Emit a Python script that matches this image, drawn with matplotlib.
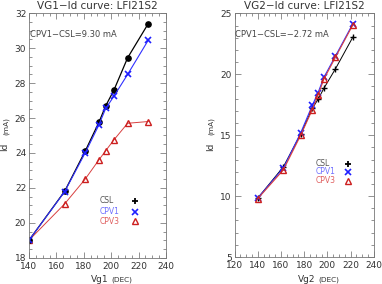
import matplotlib
matplotlib.use("Agg")
import matplotlib.pyplot as plt
from matplotlib.ticker import MultipleLocator

# ---- data ----
vg1 = [140, 166, 181, 191, 196, 202, 212, 227]
csl1 = [19.0, 21.8, 24.1, 25.75, 26.7, 27.6, 29.45, 31.4]
cpv1_1 = [19.0, 21.78, 24.0, 25.6, 26.55, 27.25, 28.5, 30.45]
cpv3_1 = [19.0, 21.08, 22.5, 23.6, 24.13, 24.75, 25.7, 25.8]

vg2 = [140, 162, 177, 187, 192, 197, 207, 222]
csl2 = [9.85, 12.4, 15.1, 17.2, 17.95, 18.85, 20.45, 23.05]
cpv1_2 = [9.85, 12.3, 15.2, 17.45, 18.5, 19.75, 21.5, 24.15]
cpv3_2 = [9.8, 12.15, 15.0, 17.1, 18.3, 19.6, 21.4, 24.05]

titles = ["VG1\u2212Id curve: LFI21S2", "VG2\u2212Id curve: LFI21S2"]
notes = ["CPV1\u2212CSL=9.30 mA", "CPV1\u2212CSL=\u22122.72 mA"]
xnames = ["Vg1", "Vg2"]
series_names = ["CSL", "CPV1", "CPV3"]

fig = plt.figure(figsize=(3.82, 2.84), dpi=100)
ax1 = fig.add_axes([0.0759, 0.0926, 0.3586, 0.8606])
ax2 = fig.add_axes([0.6144, 0.0950, 0.3639, 0.8580])

lab_colors = ["#555555", "#7070ff", "#e06060"]
txtc = "#333333"

def style(ax, xlim, ylim, xmaj, xmin, ymaj, ymin):
    ax.set_xlim(*xlim)
    ax.set_ylim(*ylim)
    ax.xaxis.set_major_locator(MultipleLocator(xmaj))
    ax.xaxis.set_minor_locator(MultipleLocator(xmin))
    ax.yaxis.set_major_locator(MultipleLocator(ymaj))
    ax.yaxis.set_minor_locator(MultipleLocator(ymin))
    ax.tick_params(which="both", direction="in", top=True, right=True,
                   width=0.5, colors="#666666", labelcolor=txtc, labelsize=6.5)
    ax.tick_params(axis="x", pad=3)
    ax.tick_params(axis="y", pad=2)
    ax.tick_params(which="major", length=4)
    ax.tick_params(which="minor", length=2)
    for s in ax.spines.values():
        s.set_color("#777777")
        s.set_linewidth(0.6)

def labels(ax, title, note, xname, leg_x, mk_x, leg_ys):
    ax.set_title(title, fontsize=7.5, color=txtc, pad=3)
    ax.text(0.005, 0.915, note, transform=ax.transAxes, fontsize=6, color="#444444",
            ha="left", va="center")
    ax.text(0.58, -0.072, xname, transform=ax.transAxes, fontsize=6.5, color=txtc,
            ha="right", va="top")
    ax.text(0.6, -0.078, "(DEC)", transform=ax.transAxes, fontsize=5.3, color=txtc,
            ha="left", va="top")
    ax.text(-0.175, 0.47, "Id", transform=ax.transAxes, fontsize=6.5, color=txtc,
            rotation=90, ha="center", va="top")
    ax.text(-0.17, 0.50, "(mA)", transform=ax.transAxes, fontsize=5.3, color=txtc,
            rotation=90, ha="center", va="bottom")
    for name, c, yy in zip(series_names, lab_colors, leg_ys):
        ax.text(leg_x, yy, name, transform=ax.transAxes, fontsize=5.5, color=c,
                ha="left", va="center")
    ax.plot([mk_x], [leg_ys[0]], transform=ax.transAxes, marker="+", ms=5, mew=1.3,
            color="black", ls="none", clip_on=False)
    ax.plot([mk_x], [leg_ys[1]], transform=ax.transAxes, marker="x", ms=4.5, mew=1.2,
            color="#1f1fff", ls="none", clip_on=False)
    ax.plot([mk_x], [leg_ys[2]], transform=ax.transAxes, marker="^", ms=5, mew=1.0,
            mfc="none", mec="#cc1f1f", ls="none", clip_on=False)

# left plot
ax1.plot(vg1, cpv3_1, color="#d84040", lw=0.7, marker="^", ms=5, mfc="none",
         mec="#cc1f1f", mew=1.0)
ax1.plot(vg1, csl1, color="black", lw=0.9, marker="o", ms=3.8)
ax1.plot(vg1, cpv1_1, color="#3030ff", lw=0.8, marker="x", ms=4.5, mew=1.2,
         mec="#1f1fff")
style(ax1, (140, 240), (18, 32), 20, 5, 2, 0.5)
labels(ax1, titles[0], notes[0], xnames[0], 0.518, 0.776, [0.232, 0.187, 0.149])

# right plot
ax2.plot(vg2, csl2, color="black", lw=0.7, marker="+", ms=5, mew=1.0)
ax2.plot(vg2, cpv1_2, color="#3030ff", lw=0.8, marker="x", ms=4.5, mew=1.2,
         mec="#1f1fff")
ax2.plot(vg2, cpv3_2, color="#d84040", lw=0.8, marker="^", ms=5, mfc="none",
         mec="#cc1f1f", mew=1.0)
style(ax2, (120, 240), (5, 25), 20, 5, 5, 1)
labels(ax2, titles[1], notes[1], xnames[1], 0.585, 0.813, [0.383, 0.349, 0.313])

fig.savefig("out.png", dpi=100)
